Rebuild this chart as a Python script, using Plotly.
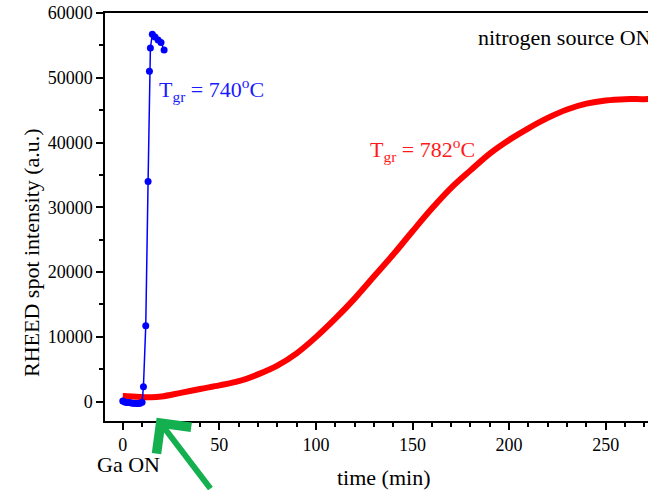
import plotly.graph_objects as go

# Blue series (T_gr = 740 C)
blue_t = [0, 1, 2, 3, 4, 5, 6, 7, 8, 9, 10, 10.7, 11.9, 13.1, 13.8, 14.3, 15.3, 16.7, 18.3, 19.8, 21.4]
blue_i = [100, -50, -150, -150, -200, -250, -250, -300, -300, -250, -100, 2300, 11700, 34000, 51000, 54600, 56700, 56300, 55850, 55450, 54300]

# Red series (T_gr = 782 C)
red_t = [0, 5, 10, 15, 20, 30, 40, 50, 60, 70, 80, 90, 100, 110, 120, 130, 140, 150, 160,
         170, 180, 190, 200, 210, 220, 230, 240, 250, 260, 270, 273]
red_i = [850, 780, 700, 650, 780, 1350, 1950, 2500, 3150, 4200, 5550, 7450, 9950, 12800, 15900,
         19300, 22700, 26300, 29800, 33000, 35700, 38300, 40400, 42200, 43800, 45100, 46000,
         46500, 46700, 46700, 46750]

x_ticks = [0, 50, 100, 150, 200, 250]
y_ticks = [0, 10000, 20000, 30000, 40000, 50000, 60000]

FONT = "Liberation Serif"

fig = go.Figure()
fig.add_trace(go.Scatter(x=red_t, y=red_i, mode="lines", line=dict(color="#ff0000", width=6, shape="spline"),
                         showlegend=False))
fig.add_trace(go.Scatter(x=blue_t, y=blue_i, mode="lines+markers", line=dict(color="#0000ff", width=1.5),
                         marker=dict(color="#0000ff", size=7), showlegend=False))

axis_common = dict(showline=True, linecolor="black", linewidth=1.5, showgrid=False, zeroline=False,
                   ticks="outside", ticklen=7, tickwidth=1.5, tickcolor="black",
                   tickfont=dict(family=FONT, size=18, color="black"))

fig.update_xaxes(range=[-9.2, 271.9], tickvals=x_ticks, ticktext=[str(v) for v in x_ticks], mirror=True,
                 minor=dict(ticks="outside", ticklen=4, tickwidth=1.5, tickcolor="black", dtick=10, tick0=0),
                 **axis_common)
fig.update_yaxes(range=[-3000, 60000], tickvals=y_ticks, ticktext=[str(v) for v in y_ticks],
                 minor=dict(ticks="outside", ticklen=4, tickwidth=1.5, tickcolor="black", dtick=5000, tick0=0),
                 **axis_common)

ann_font = dict(family=FONT, size=22)
fig.add_annotation(x=-0.1344, y=0.4118, xref="paper", yref="paper", text="RHEED spot intensity (a.u.)",
                   textangle=-90, showarrow=False, xanchor="center", yanchor="middle",
                   font=dict(color="black", **ann_font))
fig.add_annotation(x=0.512, y=-0.1397, xref="paper", yref="paper", text="time (min)",
                   showarrow=False, xanchor="center", yanchor="middle",
                   font=dict(color="black", **ann_font))
fig.add_annotation(x=17.8, y=48130, text="T<sub>gr</sub> = 740<sup>o</sup>C", xanchor="left",
                   showarrow=False, font=dict(color="#1a1aff", **ann_font))
fig.add_annotation(x=127, y=38870, text="T<sub>gr</sub> = 782<sup>o</sup>C", xanchor="left",
                   showarrow=False, font=dict(color="#ff1a1a", **ann_font))
fig.add_annotation(x=182.9, y=56160, text="nitrogen source ON", xanchor="left",
                   showarrow=False, font=dict(color="black", **ann_font))
fig.add_annotation(x=-0.0184, y=-0.1078, xref="paper", yref="paper", text="Ga ON",
                   xanchor="left", yanchor="middle",
                   showarrow=False, font=dict(color="black", **ann_font))
fig.add_annotation(x=17.5, y=-2500, text="", showarrow=True, arrowhead=4, arrowsize=1.4,
                   arrowwidth=6, arrowcolor="#14b050", ax=55, ay=85)

fig.update_layout(width=648, height=490, margin=dict(l=105, r=0, t=13, b=69),
                  plot_bgcolor="white", paper_bgcolor="white")

fig.write_html("out.html")
